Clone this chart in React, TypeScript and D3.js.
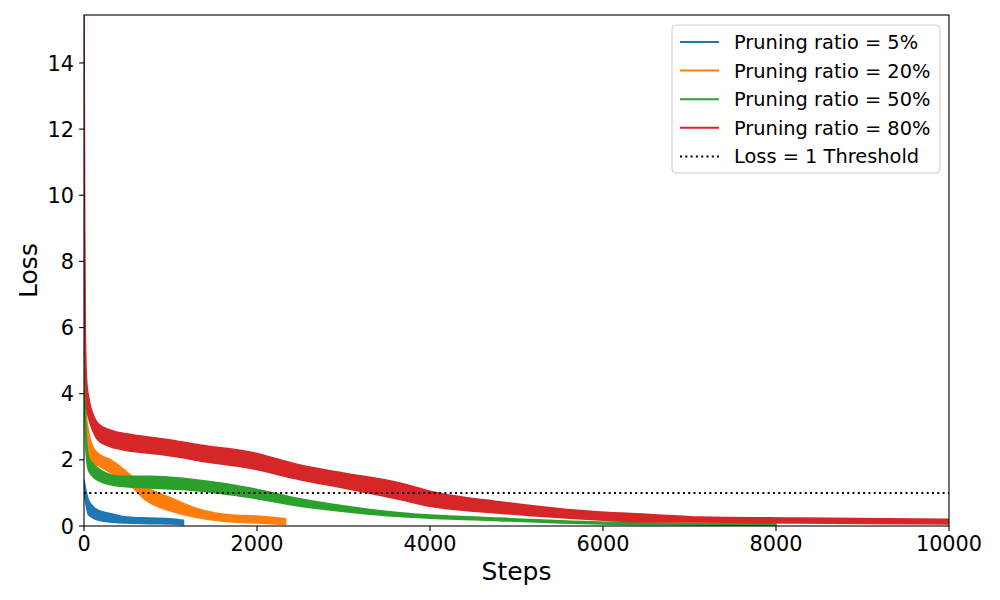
import React from 'react';
import * as d3 from 'd3';

// Loss curves for several pruning ratios, drawn as noise bands (lower / upper envelope)
const SERIES_NAMES = ['Pruning ratio = 5%', 'Pruning ratio = 20%', 'Pruning ratio = 50%', 'Pruning ratio = 80%'];
const SERIES_COLORS = ['#1f77b4', '#ff7f0e', '#2ca02c', '#d62728'];

const BLUE_STEPS = [0, 20, 50, 100, 160, 300, 500, 750, 1000, 1150];
const BLUE_LO = [1.0, 0.7, 0.35, 0.25, 0.18, 0.12, 0.09, 0.07, 0.06, 0.03];
const BLUE_HI = [1.4, 1.1, 0.8, 0.6, 0.48, 0.38, 0.27, 0.24, 0.22, 0.17];

const ORANGE_STEPS = [0, 10, 25, 50, 100, 185, 312, 509, 705, 1006, 1341, 1723, 2000, 2330];
const ORANGE_LO = [9.5, 4.5, 2.9, 2.2, 1.9, 1.8, 1.6, 1.3, 0.8, 0.45, 0.24, 0.12, 0.09, 0.05];
const ORANGE_HI = [10.0, 5.5, 3.4, 2.9, 2.4, 2.15, 2.0, 1.6, 1.2, 0.85, 0.5, 0.33, 0.3, 0.22];

const GREEN_STEPS = [0, 10, 25, 50, 100, 185, 416, 763, 1341, 1919, 2497, 3305, 3653, 4809, 5965, 7000, 8000];
const GREEN_LO = [8.0, 3.5, 2.2, 1.7, 1.5, 1.35, 1.2, 1.15, 1.06, 0.86, 0.6, 0.36, 0.29, 0.16, 0.06, 0.03, 0.01];
const GREEN_HI = [8.5, 4.5, 2.8, 2.1, 1.9, 1.7, 1.5, 1.5, 1.38, 1.15, 0.82, 0.5, 0.4, 0.24, 0.12, 0.08, 0.06];

const RED_STEPS = [0, 8, 15, 30, 60, 100, 162, 300, 509, 763, 1052, 1341, 1919, 2497, 3000, 3653, 4000, 4809, 5965, 6543, 7121, 8277, 10000];
const RED_LO = [15.2, 8.0, 5.5, 3.6, 3.2, 2.9, 2.6, 2.4, 2.28, 2.2, 2.1, 1.97, 1.75, 1.4, 1.15, 0.8, 0.6, 0.39, 0.18, 0.12, 0.12, 0.09, 0.06];
const RED_HI = [15.8, 9.0, 6.0, 4.4, 3.8, 3.4, 3.1, 2.9, 2.78, 2.68, 2.58, 2.45, 2.24, 1.84, 1.6, 1.3, 1.05, 0.73, 0.42, 0.35, 0.27, 0.24, 0.2];

const SERIES = [
  { steps: BLUE_STEPS, lo: BLUE_LO, hi: BLUE_HI },
  { steps: ORANGE_STEPS, lo: ORANGE_LO, hi: ORANGE_HI },
  { steps: GREEN_STEPS, lo: GREEN_LO, hi: GREEN_HI },
  { steps: RED_STEPS, lo: RED_LO, hi: RED_HI },
];

const THRESHOLD = 1;
const THRESHOLD_LABEL = 'Loss = 1 Threshold';
const X_TICKS = [0, 2000, 4000, 6000, 8000, 10000];
const Y_TICKS = [0, 2, 4, 6, 8, 10, 12, 14];

const FONT = 'DejaVu Sans, sans-serif';

export default function App() {
  const left = 84, right = 949, top = 15, bottom = 526;
  const x = d3.scaleLinear().domain([0, 10000]).range([left, right]);
  const y = d3.scaleLinear().domain([0, 15.45]).range([bottom, top]);

  const band = d3.area<number>()
    .curve(d3.curveMonotoneX);

  const legendX = 672, legendY = 25;
  const rowH = 28.6;

  return (
    <svg width={1000} height={600} style={{ position: 'absolute', left: 0, top: 0, background: '#fff' }}>
      <defs>
        <clipPath id="plotClip">
          <rect x={left} y={top} width={right - left} height={bottom - top} />
        </clipPath>
      </defs>

      <g clipPath="url(#plotClip)">
        {SERIES.map((s, i) => {
          const path = band
            .x((_, k) => x(s.steps[k]))
            .y0((_, k) => y(s.lo[k]))
            .y1((_, k) => y(s.hi[k]))(s.steps);
          return (
            <path key={i} d={path || ''} fill={SERIES_COLORS[i]} stroke={SERIES_COLORS[i]}
              strokeWidth={1.6} strokeLinejoin="round" />
          );
        })}
        <line x1={x(0)} x2={x(10000)} y1={y(THRESHOLD)} y2={y(THRESHOLD)}
          stroke="#000" strokeWidth={2} strokeDasharray="2,3.3" />
      </g>

      {/* axes frame */}
      <rect x={left} y={top} width={right - left} height={bottom - top} fill="none" stroke="#000" strokeWidth={1.1} />

      {X_TICKS.map(t => (
        <g key={'x' + t}>
          <line x1={x(t)} x2={x(t)} y1={bottom} y2={bottom + 4.9} stroke="#000" strokeWidth={1.1} />
          <text x={x(t)} y={551} textAnchor="middle" fontFamily={FONT} fontSize={20.8}>{t}</text>
        </g>
      ))}
      {Y_TICKS.map(t => (
        <g key={'y' + t}>
          <line x1={left - 4.9} x2={left} y1={y(t)} y2={y(t)} stroke="#000" strokeWidth={1.1} />
          <text x={74} y={y(t) + 7.6} textAnchor="end" fontFamily={FONT} fontSize={20.8}>{t}</text>
        </g>
      ))}

      <text x={(left + right) / 2} y={580} textAnchor="middle" fontFamily={FONT} fontSize={25}>Steps</text>
      <text transform={`translate(37,${(top + bottom) / 2}) rotate(-90)`} textAnchor="middle"
        fontFamily={FONT} fontSize={25}>Loss</text>

      {/* legend */}
      <rect x={legendX} y={legendY} width={268} height={148} rx={4} fill="#fff" fillOpacity={0.8}
        stroke="#cccccc" strokeWidth={1} />
      {SERIES_NAMES.map((name, i) => {
        const cy = 42 + i * rowH;
        return (
          <g key={name}>
            <line x1={680} x2={719} y1={cy} y2={cy} stroke={SERIES_COLORS[i]} strokeWidth={2} />
            <text x={734} y={cy + 7} fontFamily={FONT} fontSize={19.4}>{name}</text>
          </g>
        );
      })}
      <line x1={680} x2={719} y1={42 + 4 * rowH} y2={42 + 4 * rowH} stroke="#000" strokeWidth={2}
        strokeDasharray="2,3.3" />
      <text x={734} y={42 + 4 * rowH + 7} fontFamily={FONT} fontSize={19.4}>{THRESHOLD_LABEL}</text>
    </svg>
  );
}
